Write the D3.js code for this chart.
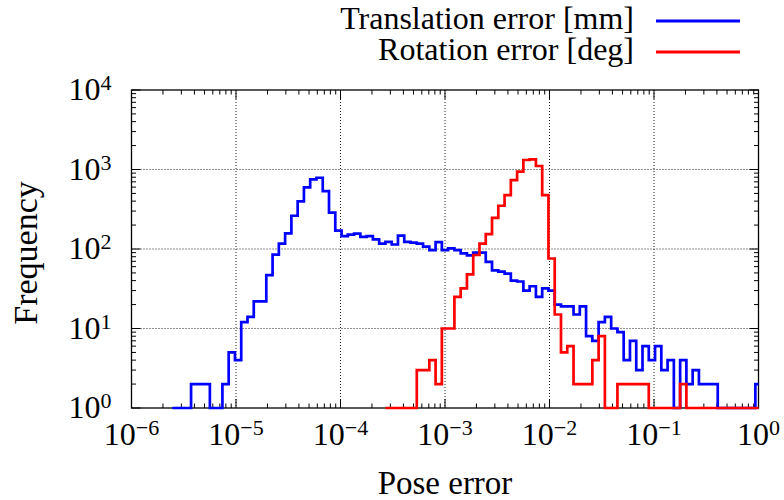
<!DOCTYPE html>
<html>
<head>
<meta charset="utf-8">
<script src="https://cdn.jsdelivr.net/npm/d3@7"></script>
<style>
  body { margin: 0; background: #fff; }
  text { font-family: "Liberation Serif", "Times New Roman", serif; fill: #000; }
</style>
</head>
<body>
<div id="chart"></div>
<script>
// histogram bins are uniform in log10, 0.06 decades wide
var binWidth = 0.06;
var translationStart = -5.61;   // log10 of the left edge of the first bin
var rotationStart = -3.57;

var translationCounts = [1, 1, 1, 2, 2, 2, 1, 1, 2, 5, 4, 12, 14, 22, 22, 47, 85, 117, 157, 262,
  397, 596, 751, 788, 535, 286, 170, 145, 152, 156, 142, 145, 132, 117, 123, 114, 147, 123, 120, 117,
  107, 97, 122, 97, 102, 97, 88, 83, 90, 90, 69, 54, 52, 49, 40, 39, 30, 34, 25, 32,
  30, 20, 19, 19, 15, 19, 8, 7, 12, 14, 10, 9, 4, 7, 3, 6, 4, 6, 3, 4,
  1, 4, 2, 3, 2, 2, 2, 1, 1, 1, 1, 1, 1, 2];

var rotationCounts = [1, 1, 1, 1, 1, 3, 3, 4, 2, 10, 10, 25, 32, 48, 84, 117, 154, 247, 350, 477,
  736, 938, 1316, 1340, 1106, 477, 76, 15, 5, 6, 2, 2, 2, 4, 8, 1, 1, 2, 2, 2,
  2, 2, 1, 1, 1, 1, 1, 2, 1, 1, 1, 1, 1, 1, 1, 1, 1, 1, 1, 1];

var seriesNames = ["Translation error [mm]", "Rotation error [deg]"];
var seriesColors = ["#0000ff", "#ff0000"];

var xExponents = [-6, -5, -4, -3, -2, -1, 0];
var yExponents = [0, 1, 2, 3, 4];

var width = 784, height = 500;
var margin = {top: 90, right: 25.5, bottom: 92, left: 131.5};
var w = width - margin.left - margin.right;
var h = height - margin.top - margin.bottom;

var svg = d3.select("#chart").append("svg")
  .attr("width", width)
  .attr("height", height);

var g = svg.append("g")
  .attr("transform", "translate(" + margin.left + "," + margin.top + ")");

var x = d3.scaleLog().domain([1e-6, 1]).range([0, w]);
var y = d3.scaleLog().domain([1, 1e4]).range([h, 0]);

// grid
g.append("g").selectAll("line")
  .data(xExponents.slice(1, -1))
  .enter().append("line")
  .attr("x1", function(d) { return x(Math.pow(10, d)); })
  .attr("x2", function(d) { return x(Math.pow(10, d)); })
  .attr("y1", 0).attr("y2", h)
  .attr("stroke", "#222").attr("stroke-width", 1)
  .attr("stroke-dasharray", "1,2");

g.append("g").selectAll("line")
  .data(yExponents.slice(1, -1))
  .enter().append("line")
  .attr("y1", function(d) { return y(Math.pow(10, d)); })
  .attr("y2", function(d) { return y(Math.pow(10, d)); })
  .attr("x1", 0).attr("x2", w)
  .attr("stroke", "#222").attr("stroke-width", 1)
  .attr("stroke-dasharray", "1,2");

// ticks on all four sides, pointing inward
function minorTicks(exps) {
  var out = [];
  for (var i = 0; i < exps.length - 1; i++) {
    for (var m = 2; m <= 9; m++) out.push(m * Math.pow(10, exps[i]));
  }
  return out;
}
var xMajor = xExponents.map(function(e) { return Math.pow(10, e); });
var yMajor = yExponents.map(function(e) { return Math.pow(10, e); });
var xMinor = minorTicks(xExponents);
var yMinor = minorTicks(yExponents);

var ticks = g.append("g").attr("stroke", "#000").attr("stroke-width", 1);
function xTicks(vals, len) {
  vals.forEach(function(v) {
    ticks.append("line").attr("x1", x(v)).attr("x2", x(v)).attr("y1", h).attr("y2", h - len);
    ticks.append("line").attr("x1", x(v)).attr("x2", x(v)).attr("y1", 0).attr("y2", len);
  });
}
function yTicks(vals, len) {
  vals.forEach(function(v) {
    ticks.append("line").attr("y1", y(v)).attr("y2", y(v)).attr("x1", 0).attr("x2", len);
    ticks.append("line").attr("y1", y(v)).attr("y2", y(v)).attr("x1", w).attr("x2", w - len);
  });
}
xTicks(xMajor, 9); xTicks(xMinor, 4.5);
yTicks(yMajor, 9); yTicks(yMinor, 4.5);

g.append("rect")
  .attr("width", w).attr("height", h)
  .attr("fill", "none").attr("stroke", "#000").attr("stroke-width", 1.3);

// tick labels as 10^n
var xl = g.append("g").selectAll("text")
  .data(xExponents)
  .enter().append("text")
  .attr("x", function(d) { return x(Math.pow(10, d)); })
  .attr("y", h + 37)
  .attr("text-anchor", "middle")
  .style("font-size", "32px");
xl.append("tspan").text("10");
xl.append("tspan").attr("dy", -10).style("font-size", "22px")
  .text(function(d) { return String(d).replace("-", "\u2212"); });

var yl = g.append("g").selectAll("text")
  .data(yExponents)
  .enter().append("text")
  .attr("x", -20)
  .attr("y", function(d) { return y(Math.pow(10, d)) + 10; })
  .attr("text-anchor", "end")
  .style("font-size", "32px");
yl.append("tspan").text("10");
yl.append("tspan").attr("dy", -10).style("font-size", "22px")
  .text(function(d) { return d; });

// axis titles
svg.append("text")
  .attr("x", margin.left + w / 2).attr("y", 494)
  .attr("text-anchor", "middle")
  .style("font-size", "33px")
  .text("Pose error");

svg.append("text")
  .attr("transform", "translate(37," + (margin.top + h / 2 + 4) + ") rotate(-90)")
  .attr("text-anchor", "middle")
  .style("font-size", "34px")
  .text("Frequency");

// step histograms
svg.append("clipPath").attr("id", "plotclip")
  .append("rect").attr("x", -10).attr("y", -10).attr("width", w + 10).attr("height", h + 20);

var line = d3.line()
  .x(function(d) { return x(Math.pow(10, d[0])); })
  .y(function(d) { return y(d[1]); })
  .curve(d3.curveStepAfter);

function stepPoints(start, counts) {
  var pts = counts.map(function(c, i) { return [start + i * binWidth, c]; });
  pts.push([start + counts.length * binWidth, counts[counts.length - 1]]);
  return pts;
}

var series = [stepPoints(translationStart, translationCounts), stepPoints(rotationStart, rotationCounts)];

g.append("g").attr("clip-path", "url(#plotclip)")
  .selectAll("path")
  .data(series)
  .enter().append("path")
  .attr("d", line)
  .attr("fill", "none")
  .attr("stroke", function(d, i) { return seriesColors[i]; })
  .attr("stroke-width", 2.7)
  .attr("stroke-linejoin", "miter");

// legend, top right
var legend = svg.append("g").selectAll("g")
  .data(seriesNames)
  .enter().append("g")
  .attr("transform", function(d, i) { return "translate(0," + (21 + i * 31) + ")"; });

legend.append("text")
  .attr("x", 634).attr("y", 8)
  .attr("text-anchor", "end")
  .style("font-size", "32px")
  .text(function(d) { return d; });

legend.append("line")
  .attr("x1", 656).attr("x2", 740)
  .attr("stroke", function(d, i) { return seriesColors[i]; })
  .attr("stroke-width", 2.8);
</script>
</body>
</html>
